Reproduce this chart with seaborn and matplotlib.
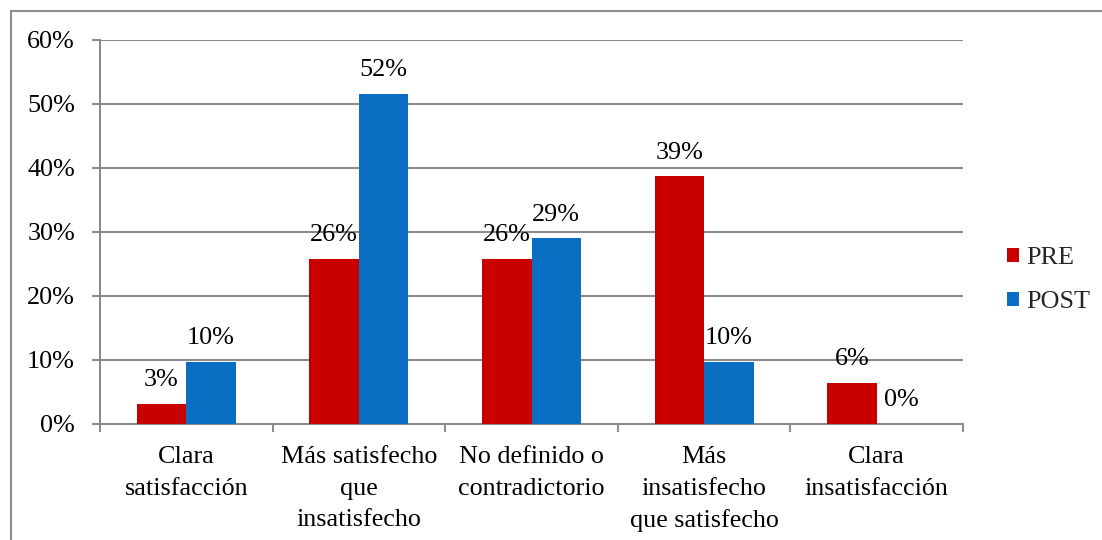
import matplotlib
matplotlib.use("Agg")
import matplotlib.pyplot as plt
import seaborn as sns
import pandas as pd
from matplotlib.lines import Line2D
from matplotlib.ticker import PercentFormatter, FixedLocator

categories = ["Clara\nsatisfacción", "Más satisfecho\nque\ninsatisfecho",
              "No definido o\ncontradictorio", "Más\ninsatisfecho\nque satisfecho",
              "Clara\ninsatisfacción"]
series = ["PRE", "POST"]
pre_values = [0.032, 0.258, 0.258, 0.387, 0.0645]
post_values = [0.097, 0.516, 0.290, 0.097, 0.0]
yticks = [0.0, 0.1, 0.2, 0.3, 0.4, 0.5, 0.6]

colors = {"PRE": "#C80000", "POST": "#0A6FC2"}

df = pd.DataFrame({
    "cat": categories * 2,
    "serie": ["PRE"] * len(categories) + ["POST"] * len(categories),
    "val": pre_values + post_values,
})

sns.set_theme(style="white")
plt.rcParams["font.family"] = ["Liberation Serif", "DejaVu Serif"]
grid_col = "#8C8C8C"
fs = 18.8

fig = plt.figure(figsize=(11.02, 5.40), dpi=100)
ax = fig.add_axes([100 / 1102, 116 / 540, 863 / 1102, 384 / 540])

sns.barplot(data=df, x="cat", y="val", hue="serie", hue_order=series,
            order=categories, palette=colors, width=0.574, ax=ax,
            saturation=1, errorbar=None, legend=True, zorder=3,
            edgecolor="none")

ax.set_ylim(0, 0.6)
ax.set_xlim(-0.5, len(categories) - 0.5)
ax.yaxis.set_major_locator(FixedLocator(yticks))
ax.yaxis.set_major_formatter(PercentFormatter(1.0, decimals=0))
ax.grid(axis="y", color=grid_col, linewidth=1.5, zorder=0)
ax.set_axisbelow(True)
ax.set_xlabel("")
ax.set_ylabel("")

for s in ["top", "right"]:
    ax.spines[s].set_visible(False)
for s in ["left", "bottom"]:
    ax.spines[s].set_color(grid_col)
    ax.spines[s].set_linewidth(1.5)

ax.tick_params(axis="y", which="major", left=True, length=6, width=1.5,
               color=grid_col, pad=12, labelsize=fs, labelcolor="black")
ax.tick_params(axis="x", which="major", bottom=False, length=0, pad=16,
               labelsize=fs, labelcolor="black")
ax.set_xticks([i - 0.5 for i in range(len(categories) + 1)], minor=True)
ax.tick_params(axis="x", which="minor", bottom=True, length=6, width=1.5,
               color=grid_col)
for lbl in ax.get_xticklabels():
    lbl.set_linespacing(1.55)

for cont in ax.containers:
    for bar in cont:
        h = bar.get_height()
        ax.annotate(f"{round(h * 100):.0f}%",
                    (bar.get_x() + bar.get_width() / 2, h),
                    xytext=(0, 9), textcoords="offset points",
                    ha="center", va="bottom", fontsize=fs, color="black")

leg = ax.legend(loc="center left", bbox_to_anchor=(994 / 1102, 260 / 540),
                bbox_transform=fig.transFigure, frameon=False, fontsize=fs,
                handlelength=0.45, handleheight=0.45, handletextpad=0.3,
                labelspacing=0.85, borderpad=0)

# outer chart border (left and top)
fig.add_artist(Line2D([11 / 1102, 11 / 1102], [0, 1 - 11 / 540],
                      transform=fig.transFigure, color=grid_col, linewidth=1.5))
fig.add_artist(Line2D([11 / 1102, 1], [1 - 11 / 540, 1 - 11 / 540],
                      transform=fig.transFigure, color=grid_col, linewidth=1.5))

fig.savefig("out.png", dpi=100)
